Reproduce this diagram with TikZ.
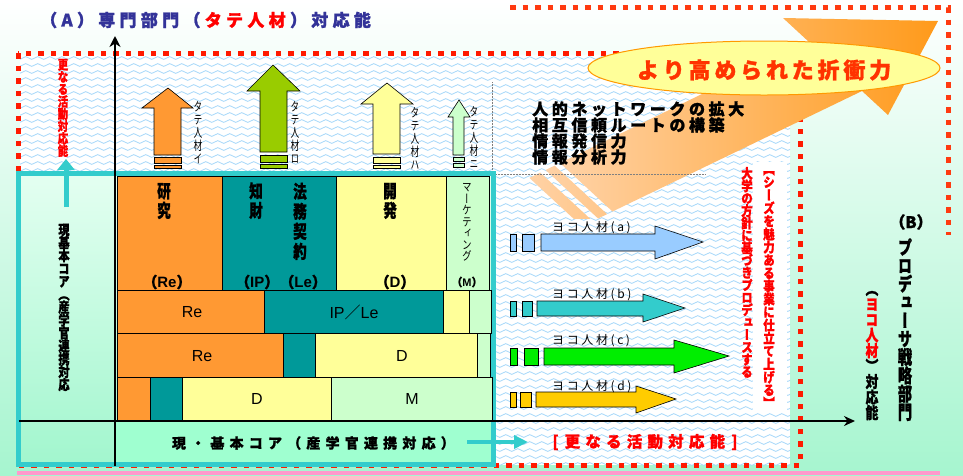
\documentclass[tikz,border=0pt]{standalone}
\usepackage{fontspec}
\setmainfont{Liberation Sans}
\newfontfamily\jp{Noto Sans CJK JP}[BoldFeatures={FakeBold=1.3}]
\newfontfamily\jpv{Noto Sans CJK JP}[RawFeature=+vert, BoldFeatures={FakeBold=1.3}]
\usetikzlibrary{decorations.pathmorphing,arrows.meta}

\ExplSyntaxOn
\NewDocumentCommand\vtxt{mm}{
  \vbox{\offinterlineskip
    \tl_map_inline:nn {#2} {\hbox_to_wd:nn {1.1em} {\hss \raisebox{0pt}[#1][0pt]{##1} \hss}}
  }
}
\NewDocumentCommand\vtx{mmmm}{\fontsize{#1}{#1}\selectfont\scalebox{#2}[1]{\vtxt{#3}{#4}}}
\NewDocumentCommand\lsp{mm}{\tl_map_inline:nn {#2} {##1\kern#1}}
\ExplSyntaxOff

\definecolor{bgBot}{HTML}{A6F5CF}
\definecolor{waveC}{HTML}{A6D8FA}
\definecolor{cyanB}{HTML}{33CCCC}
\definecolor{oraB}{HTML}{FF9933}
\definecolor{tealB}{HTML}{009999}
\definecolor{yelB}{HTML}{FFFF99}
\definecolor{lgrB}{HTML}{CCFFCC}
\definecolor{grnA}{HTML}{99CC00}
\definecolor{navyT}{HTML}{333399}
\definecolor{ellF}{HTML}{FFFF99}
\definecolor{ellD}{HTML}{FF9900}
\definecolor{ellT}{HTML}{FF3300}
\definecolor{peach}{HTML}{FFD2A6}
\definecolor{deepO}{HTML}{FF9A1A}
\definecolor{ltBlue}{HTML}{99CCFF}
\definecolor{brGreen}{HTML}{00EE00}
\definecolor{goldA}{HTML}{FFCC00}
\definecolor{pinkB}{HTML}{FF99CC}
\definecolor{boxTop}{HTML}{E4FFF1}
\definecolor{boxBot}{HTML}{A2F6CE}
\definecolor{rowBot}{HTML}{9FFFD0}
\definecolor{dotR}{HTML}{FF1A00}
\definecolor{dotO}{HTML}{FF3A10}

\tikzset{
  blk/.style={draw=black, line width=0.6pt},
  barrow/.style={draw=black, line width=0.6pt},
  vt/.style={inner sep=0pt, anchor=north},
  tx/.style={inner sep=0pt},
  wavyline/.style={draw=waveC, line width=0.8pt, decorate, decoration={snake, amplitude=1.4pt, segment length=12pt}},
  reddots/.style={draw=dotR, line width=5pt, dash pattern=on 5.5pt off 7pt},
  orgdots/.style={draw=dotO, line width=5pt, dash pattern=on 5.5pt off 7pt},
}

\begin{document}
\begin{tikzpicture}[x=1pt,y=-1pt]
\useasboundingbox (0,0) rectangle (963,475);
\shade[top color=white, bottom color=bgBot] (0,0) rectangle (963,475);

% white wavy area
\begin{scope}
  \clip (20,55) rectangle (790,465);
  \fill[white] (20,55) rectangle (790,465);
  \foreach \yy in {58,65,...,465} \draw[wavyline] (10,\yy) -- (800,\yy);
\end{scope}

% red dotted frames
\draw[reddots] (18,53) rectangle (800,465);
\draw[orgdots] (510,7.5) -- (948,7.5) -- (948,235);

% big orange arrow
\begin{scope}
  \clip (490,0) rectangle (963,218);
  \shade[left color=peach, right color=deepO]
    (560,163) -- (809,42) -- (783,18) -- (938,21) -- (888,115) -- (862,91) -- (612.5,211.5) -- cycle;
  \shade[left color=peach, right color=peach!80!deepO]
    (554.6,165.6) -- (545.6,170.0) -- (598.1,218.5) -- (607.1,214.1) -- cycle;
  \shade[left color=peach, right color=peach!80!deepO]
    (540.2,172.6) -- (529.4,177.9) -- (581.9,226.4) -- (592.7,221.1) -- cycle;
\end{scope}

% ellipse
\draw[fill=ellF, draw=ellD, line width=1pt] (764,68) ellipse [x radius=176, y radius=27];
\node[tx, text=ellT] (ellt) at (766,70) {\jp\bfseries\fontsize{22}{22}\selectfont\lsp{3.8pt}{より高められた折衝力}};

% text list
\draw[gray, densely dotted, line width=0.5pt] (492,82) coordinate (dl1) -- (492,174) coordinate (dl2) -- (705,174) coordinate (dl3);
\node[tx, anchor=west] (l1) at (532,109) {\jp\bfseries\fontsize{16}{16}\selectfont\lsp{3.6pt}{人的ネットワークの拡大}};
\node[tx, anchor=west] (l2) at (532,125) {\jp\bfseries\fontsize{16}{16}\selectfont\lsp{3.6pt}{相互信頼ルートの構築}};
\node[tx, anchor=west] (l3) at (532,141) {\jp\bfseries\fontsize{16}{16}\selectfont\lsp{3.6pt}{情報発信力}};
\node[tx, anchor=west] (l4) at (532,157) {\jp\bfseries\fontsize{16}{16}\selectfont\lsp{3.6pt}{情報分析力}};

% title
\node[tx, anchor=west, text=navyT] (title) at (40,20) {\jp\bfseries\fontsize{17}{17}\selectfont\lsp{4.3pt}{（A）専門部門（}\textcolor{red}{\lsp{4.3pt}{タテ人材}}\lsp{4.3pt}{）対応能}};

% cyan box
\shade[top color=boxTop, bottom color=boxBot] (18,173) rectangle (493,464);
\fill[rowBot] (115,421) rectangle (493,464);
\draw[cyanB, line width=5pt] (18,173) rectangle (493,464);

% grid row 1
\fill[blk, fill=oraB] (117,176) rectangle (222,290);
\fill[blk, fill=tealB] (222,176) rectangle (336,290);
\fill[blk, fill=yelB] (336,176) rectangle (446,290);
\fill[blk, fill=lgrB] (446,176) rectangle (489,290);
% row 2
\fill[blk, fill=oraB] (117,290) rectangle (264,333);
\fill[blk, fill=tealB] (264,290) rectangle (443,333);
\fill[blk, fill=yelB] (443,290) rectangle (469,333);
\fill[blk, fill=lgrB] (469,290) rectangle (491,333);
% row 3
\fill[blk, fill=oraB] (117,333) rectangle (283,377);
\fill[blk, fill=tealB] (283,333) rectangle (315,377);
\fill[blk, fill=yelB] (315,333) rectangle (477,377);
\fill[blk, fill=lgrB] (477,333) rectangle (490,377);
% row 4
\fill[blk, fill=oraB] (117,377) rectangle (150,420);
\fill[blk, fill=tealB] (150,377) rectangle (182,420);
\fill[blk, fill=yelB] (182,377) rectangle (331,420);
\fill[blk, fill=lgrB] (331,377) rectangle (492,420);

% row 1 texts
\node[vt] (kk) at (164,178) {\jpv\bfseries\vtx{18}{0.75}{19.5pt}{研究}};
\node[vt] (cz) at (256,178) {\jpv\bfseries\vtx{18}{0.75}{19.5pt}{知財}};
\node[vt] (hk) at (300,178) {\jpv\bfseries\vtx{18}{0.75}{20pt}{法務契約}};
\node[vt] (kh) at (390,178) {\jpv\bfseries\vtx{18}{0.75}{19.5pt}{開発}};
\node[vt] (mk) at (467,180) {\jpv\vtx{12}{0.8}{11.5pt}{マーケティング}};
\node[tx] (re1) at (167,282) {\fontsize{15}{15}\selectfont{\jp\bfseries（}\textbf{Re}{\jp\bfseries）}};
\node[tx] (ip1) at (281,282) {\fontsize{15}{15}\selectfont{\jp\bfseries（}\textbf{IP}{\jp\bfseries）（}\textbf{Le}{\jp\bfseries）}};
\node[tx] (d1) at (395,282) {\fontsize{15}{15}\selectfont{\jp\bfseries（}\textbf{D}{\jp\bfseries）}};
\node[tx] (m1) at (467,282) {\fontsize{11}{11}\selectfont{\jp\bfseries（}\textbf{M}{\jp\bfseries）}};
% row 2-4 texts
\node[tx] (re2) at (192,312) {\fontsize{16}{16}\selectfont Re};
\node[tx] (ip2) at (354,312) {\fontsize{16}{16}\selectfont IP{\jp ／}Le};
\node[tx] (re3) at (202,356) {\fontsize{16}{16}\selectfont Re};
\node[tx] (d3) at (402,356) {\fontsize{16}{16}\selectfont D};
\node[tx] (d4) at (257,399) {\fontsize{16}{16}\selectfont D};
\node[tx] (m4) at (412,399) {\fontsize{16}{16}\selectfont M};

% bottom row text
\node[tx] (core) at (316,443) {\jp\bfseries\fontsize{14}{14}\selectfont\lsp{5.2pt}{現・基本コア（産学官連携対応）}};
\node[tx, text=red] (more) at (645,442) {\jp\bfseries\fontsize{15.5}{15.5}\selectfont[\kern6pt\lsp{5.2pt}{更なる活動対応能}\kern1pt]};

% left vertical texts
\node[vt, text=red] (sara) at (63,57) {\jpv\bfseries\vtx{13}{0.8}{12.3pt}{更なる活動対応能}};
\node[vt] (gen) at (64,222) {\jpv\bfseries\vtx{14}{0.8}{12.9pt}{現基本コア（産学官連携対応}};

% cyan arrows
\coordinate (ca1) at (66,207); \coordinate (ca2) at (66,159);
\draw[cyanB, line width=5pt, -{Triangle[length=11pt,width=17pt]}] (ca1) -- (ca2);
\coordinate (cb1) at (467,442); \coordinate (cb2) at (528,442);
\draw[cyanB, line width=4pt, -{Triangle[length=14pt,width=13pt]}] (cb1) -- (cb2);

% up arrows (tate)
\filldraw[barrow, fill=oraB] (154,155) -- (154,108) -- (142,108) -- (168,88) -- (193,108) -- (181,108) -- (181,155) -- cycle;
\filldraw[barrow, fill=oraB] (154,157) rectangle (181,163);
\filldraw[barrow, fill=oraB] (154,165) rectangle (181,168);
\filldraw[barrow, fill=grnA] (260,152) -- (260,91) -- (247,91) -- (273,65) -- (300,91) -- (287,91) -- (287,152) -- cycle;
\filldraw[barrow, fill=grnA] (260,155) rectangle (287,162);
\filldraw[barrow, fill=grnA] (260,164) rectangle (287,168);
\filldraw[barrow, fill=yelB] (373,154) -- (373,104) -- (361,104) -- (387,83) -- (413,104) -- (400,104) -- (400,154) -- cycle;
\filldraw[barrow, fill=yelB] (373,157) rectangle (400,163);
\filldraw[barrow, fill=yelB] (373,165) rectangle (400,168);
\filldraw[barrow, fill=lgrB] (453,155) -- (453,117) -- (448,117) -- (459,100) -- (470,117) -- (464,117) -- (464,155) -- cycle;
\filldraw[barrow, fill=lgrB] (453,157) rectangle (464,161);
\filldraw[barrow, fill=lgrB] (453,163) rectangle (464,167);
\node[vt] (ti) at (198,98) {\jpv\vtx{12.5}{0.7}{13pt}{タテ人材イ}};
\node[vt] (tr) at (295,98) {\jpv\vtx{12.5}{0.7}{13pt}{タテ人材ロ}};
\node[vt] (th) at (415,104) {\jpv\vtx{12.5}{0.7}{13pt}{タテ人材ハ}};
\node[vt] (tn) at (474,103) {\jpv\vtx{12.5}{0.7}{13pt}{タテ人材ニ}};

% axes
\coordinate (yb) at (115,466); \coordinate (yt) at (115,36);
\coordinate (xl) at (19,421); \coordinate (xr) at (855,421);
\draw[line width=2.2pt, -{Stealth[length=11pt,width=11pt]}] (yb) -- (yt);
\draw[line width=2pt, -{Stealth[length=11pt,width=10pt]}] (xl) -- (xr);

% yoko arrows
\filldraw[barrow, fill=ltBlue] (510,234) rectangle (516,251);
\filldraw[barrow, fill=ltBlue] (522,234) rectangle (534,251);
\filldraw[barrow, fill=ltBlue] (541,234) -- (655,234) -- (655,226) -- (703,242) -- (655,259) -- (655,251) -- (541,251) -- cycle;
\filldraw[barrow, fill=cyanB] (510,301) rectangle (516,316);
\filldraw[barrow, fill=cyanB] (522,301) rectangle (532,316);
\filldraw[barrow, fill=cyanB] (537,301) -- (643,301) -- (643,294) -- (685,308) -- (643,322) -- (643,316) -- (537,316) -- cycle;
\filldraw[barrow, fill=brGreen] (510,348) rectangle (517,365);
\filldraw[barrow, fill=brGreen] (524,348) rectangle (538,365);
\filldraw[barrow, fill=brGreen] (544,348) -- (674,348) -- (674,340) -- (729,356) -- (674,373) -- (674,365) -- (544,365) -- cycle;
\filldraw[barrow, fill=goldA] (510,392) rectangle (516,407);
\filldraw[barrow, fill=goldA] (520,392) rectangle (531,407);
\filldraw[barrow, fill=goldA] (536,392) -- (636,392) -- (636,386) -- (676,399) -- (636,413) -- (636,407) -- (536,407) -- cycle;
\node[tx, anchor=west] (ya) at (552,228) {\jp\fontsize{12}{12}\selectfont\lsp{2.6pt}{ヨコ人材(a)}};
\node[tx, anchor=west] (yb2) at (552,295) {\jp\fontsize{12}{12}\selectfont\lsp{2.6pt}{ヨコ人材(b)}};
\node[tx, anchor=west] (yc) at (552,341) {\jp\fontsize{12}{12}\selectfont\lsp{2.6pt}{ヨコ人材(c)}};
\node[tx, anchor=west] (yd) at (552,387) {\jp\fontsize{12}{12}\selectfont\lsp{2.6pt}{ヨコ人材(d)}};

% red vertical texts
\fill[white] (753,162) rectangle (787,413);
\node[vt, text=red] (rv1) at (747,166) {\jpv\bfseries\vtx{13.5}{0.85}{12.4pt}{大学の方針に基づきプロデュースする}};
\node[vt, text=red] (rv2) at (769,161) {\jpv\bfseries\vtx{13.5}{0.85}{13pt}{【シーズを魅力ある事業に仕立て上げる】}};

% (B) side
\node[tx] (bB) at (911,222) {\jp\bfseries\fontsize{16}{16}\selectfont（B）};
\node[vt] (pro) at (905,236) {\jpv\bfseries\vtx{19}{0.75}{18.3pt}{プロデューサ戦略部門}};
\node[vt] (yk1) at (872,279) {\jpv\bfseries\vtx{16}{0.8}{15.5pt}{（}};
\node[vt, text=red] (yk2) at (872,294.5) {\jpv\bfseries\vtx{16}{0.8}{15.5pt}{ヨコ人材}};
\node[vt] (yk3) at (872,356.5) {\jpv\bfseries\vtx{16}{0.8}{15.5pt}{）対応能}};

% pink band
\fill[pinkB] (17,471) rectangle (940,475);
\end{tikzpicture}
\end{document}
